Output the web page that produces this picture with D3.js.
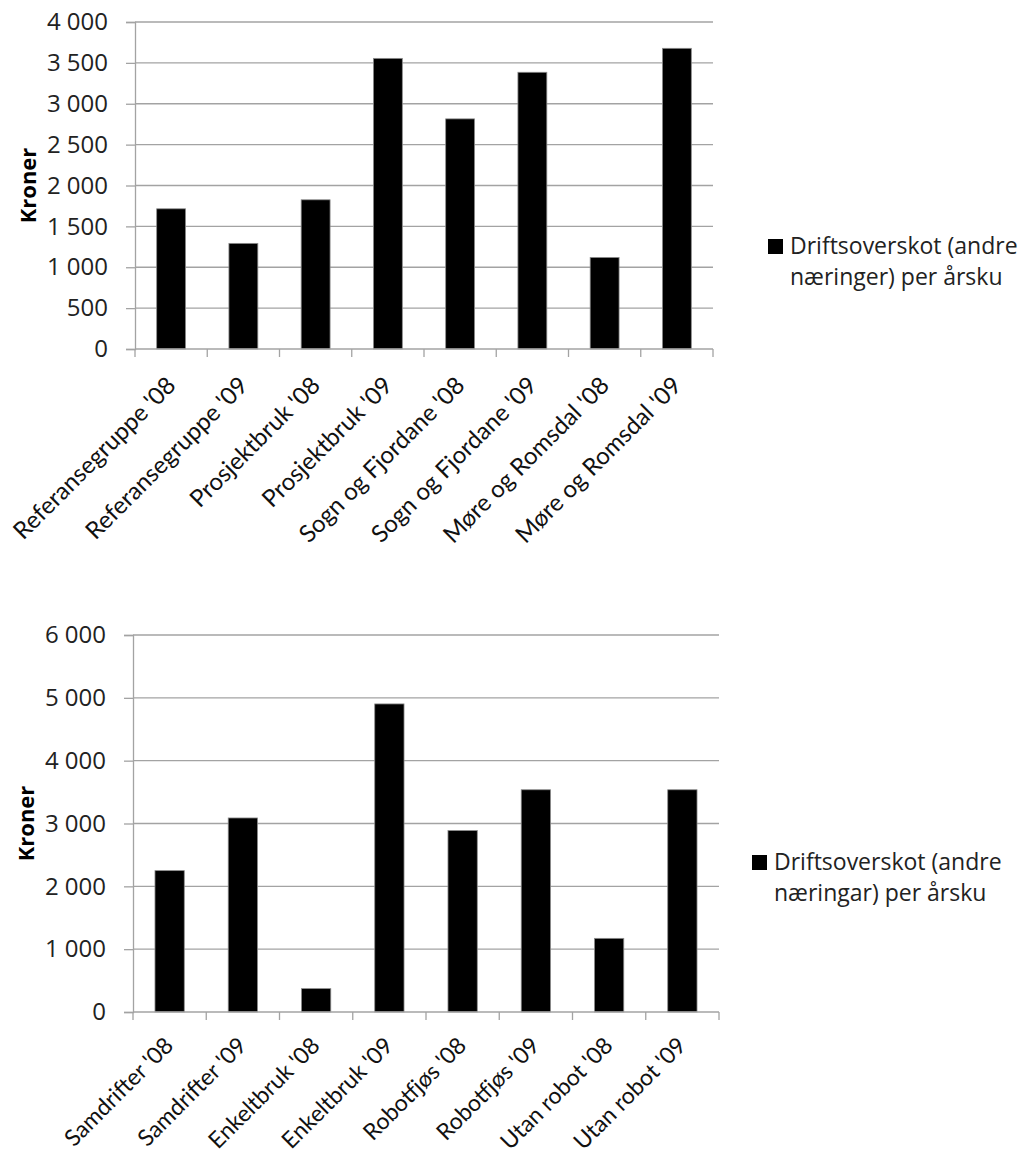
<!DOCTYPE html>
<html>
<head>
<meta charset="utf-8">
<script src="https://cdn.jsdelivr.net/npm/d3@7"></script>
<style>
  html, body { margin: 0; padding: 0; background: #fff; }
  svg { display: block; }
  text { fill: #1a1a1a; }
</style>
</head>
<body>
<svg id="chart" width="1024" height="1157"></svg>
<script>
// ---- Data: chart 1 ----
const categories1 = ["Referansegruppe '08", "Referansegruppe '09", "Prosjektbruk '08", "Prosjektbruk '09",
  "Sogn og Fjordane '08", "Sogn og Fjordane '09", "Møre og Romsdal '08", "Møre og Romsdal '09"];
const values1 = [1715, 1292, 1825, 3555, 2815, 3385, 1120, 3678];
const ticks1 = [0, 500, 1000, 1500, 2000, 2500, 3000, 3500, 4000];
const legend1 = ["Driftsoverskot (andre", "næringer) per årsku"];

// ---- Data: chart 2 ----
const categories2 = ["Samdrifter '08", "Samdrifter '09", "Enkeltbruk '08", "Enkeltbruk '09",
  "Robotfjøs '08", "Robotfjøs '09", "Utan robot '08", "Utan robot '09"];
const values2 = [2250, 3088, 372, 4903, 2888, 3537, 1172, 3537];
const ticks2 = [0, 1000, 2000, 3000, 4000, 5000, 6000];
const legend2 = ["Driftsoverskot (andre", "næringar) per årsku"];

const yTitle = "Kroner";

const svg = d3.select("#chart");
const fmtSp = v => d3.format(",")(v).replace(/,/g, " ");
const FS = 23;
const OPEN = "'Open Sans', Lato, sans-serif";
const LATO = "Lato, 'Open Sans', sans-serif";

function drawChart(opt) {
  const g = svg.append("g");
  const x = d3.scaleBand().domain(opt.categories).range([opt.left, opt.right]).paddingInner(0.6).paddingOuter(0.3);
  const xb = d3.scaleBand().domain(opt.categories).range([opt.left, opt.right]);
  const y = d3.scaleLinear().domain([0, d3.max(opt.ticks)]).range([opt.bottom, opt.top]);

  // gridlines
  g.append("g").selectAll("line").data(opt.ticks.filter(t => t > 0)).join("line")
    .attr("x1", opt.left).attr("x2", opt.right)
    .attr("y1", d => y(d)).attr("y2", d => y(d))
    .attr("stroke", "#a3a3a3").attr("stroke-width", 1.3);

  // y axis
  const yAxis = d3.axisLeft(y).tickValues(opt.ticks).tickSize(9).tickPadding(18).tickFormat(fmtSp);
  const ya = g.append("g").attr("transform", `translate(${opt.left},0)`).call(yAxis);
  ya.select(".domain").attr("stroke", "#a3a3a3").attr("stroke-width", 1.3);
  ya.selectAll(".tick line").attr("stroke", "#a3a3a3").attr("stroke-width", 1.3);
  ya.selectAll(".tick text").style("font-size", "24px").style("fill", "#222")
    .style("font-family", OPEN);

  // bars
  g.append("g").selectAll("rect").data(opt.values).join("rect")
    .attr("x", (d, i) => x(opt.categories[i]))
    .attr("width", x.bandwidth())
    .attr("y", d => y(d))
    .attr("height", d => opt.bottom - y(d))
    .attr("fill", "#000").attr("stroke", "#8c8c8c").attr("stroke-width", 0.8);

  // x axis
  const bounds = opt.categories.map(c => xb(c)).concat([opt.right]);
  const xa = g.append("g");
  xa.append("line").attr("x1", opt.left).attr("x2", opt.right).attr("y1", opt.bottom).attr("y2", opt.bottom)
    .attr("stroke", "#a3a3a3").attr("stroke-width", 1.3);
  xa.selectAll("line.tk").data(bounds).join("line").attr("class", "tk")
    .attr("x1", d => d).attr("x2", d => d).attr("y1", opt.bottom).attr("y2", opt.bottom + 8)
    .attr("stroke", "#a3a3a3").attr("stroke-width", 1.3);
  xa.selectAll("text").data(opt.categories).join("text")
    .attr("transform", d => `translate(${xb(d) + xb.bandwidth() / 2 + opt.labDx},${opt.bottom + opt.labDy}) rotate(-45)`)
    .attr("text-anchor", "end")
    .style("font-family", LATO)
    .style("font-size", opt.labFs + "px")
    .style("fill", "#111")
    .text(d => d);

  // y title
  g.append("text")
    .attr("transform", `translate(${opt.titleX},${(opt.top + opt.bottom) / 2}) rotate(-90)`)
    .attr("text-anchor", "middle").attr("dominant-baseline", "central")
    .style("font-family", OPEN)
    .style("font-size", "22px").style("font-weight", "bold").style("fill", "#000")
    .text(yTitle);

  // legend
  const lg = g.append("g");
  lg.append("rect").attr("x", opt.legX).attr("y", opt.legY - 15).attr("width", 15).attr("height", 15).attr("fill", "#000");
  lg.selectAll("text").data(opt.legend).join("text")
    .attr("x", opt.legX + 22).attr("y", (d, i) => opt.legY + i * 31)
    .style("font-family", OPEN)
    .style("font-size", FS + "px").style("fill", "#222")
    .text(d => d);
}

drawChart({ categories: categories1, values: values1, ticks: ticks1, legend: legend1,
  left: 135, right: 713, top: 22, bottom: 349, titleX: 27, legX: 768, legY: 254, labDx: 6, labDy: 38, labFs: 24 });
drawChart({ categories: categories2, values: values2, ticks: ticks2, legend: legend2,
  left: 133, right: 719, top: 635, bottom: 1012, titleX: 25, legX: 752, legY: 870, labDx: 5, labDy: 35, labFs: 23 });
</script>
</body>
</html>
